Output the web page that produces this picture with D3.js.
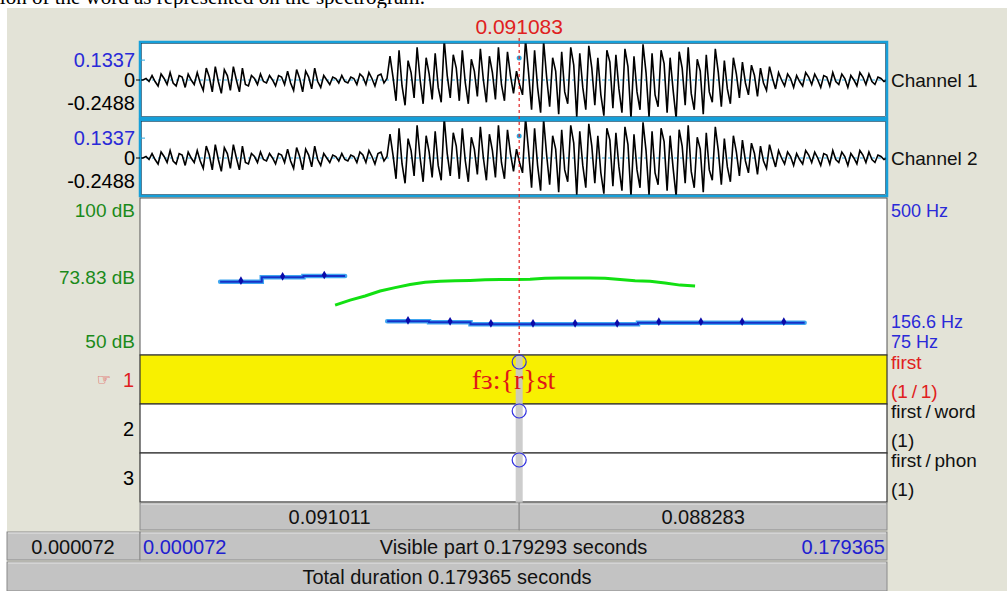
<!DOCTYPE html>
<html>
<head>
<meta charset="utf-8">
<script src="https://cdn.jsdelivr.net/npm/d3@7"></script>
<style>
  html, body { margin: 0; padding: 0; background: #fff; overflow: hidden; }
  text { font-family: "Liberation Sans", Arial, sans-serif; }
</style>
</head>
<body>
<div id="d3-container"></div>
<script>
const width = 1007,
  height = 591,
  panel = { left: 140, right: 887 },
  fontSize = "20px";

/* DATA */
const timeRange = [0.000072, 0.179365];
const cursorTime = 0.091083;
const ampTicks = [0.1337, 0, -0.2488];
const ampMax = 0.2488;

// waveform samples, left to right
const channel1 = [
  0, 0, 0.01, -0.01,
  0.03, -0.01, -0.04, 0.04, 0.01, -0.03, 0.05, -0.02, -0.04, 0.03, 0.02, -0.05, 0.04, 0.0, -0.03, 0.05, -0.02,
  -0.07, 0.08, 0.02, -0.08, 0.09, -0.01, -0.09, 0.07, 0.03, -0.07, 0.09, 0.0, -0.08, 0.08, -0.03,
  -0.04, 0.03, 0.01, -0.03, 0.04, -0.01, -0.02, 0.03, 0.0, -0.04, 0.03, 0.02, -0.03,
  0.06, -0.02, -0.07, 0.07, 0.01, -0.08, 0.06, 0.02, -0.06, 0.08, -0.01, -0.05,
  0.03, 0.0, -0.03, 0.02, 0.01, -0.02, 0.03, -0.01, -0.02, 0.02, 0.01, -0.03, 0.04, 0.02, -0.03, 0.05, 0.01, -0.04,
  0.03, 0.04, -0.02, 0.01,
  0.16, 0.02, -0.14, 0.2, -0.04, -0.17, 0.13, 0.05, -0.12, 0.22, 0.0, -0.16, 0.15, 0.04, -0.13,
  0.18, -0.05, -0.15, 0.27, 0.03, -0.12, 0.17, 0.08, -0.14, 0.2, -0.02, -0.16, 0.14, 0.06, -0.11,
  0.21, 0.0, -0.15, 0.16, 0.05, -0.13, 0.22, -0.03, -0.14, 0.19, 0.03, -0.09,
  0.06, -0.03, -0.1, 0.27, 0.05, -0.2, 0.2, -0.05, -0.22, 0.26, 0.02, -0.18, 0.15, 0.06, -0.23,
  0.19, -0.08, -0.16, 0.22, 0.1, -0.25, 0.18, -0.05, -0.2, 0.23, 0.08, -0.17, 0.15, -0.1, -0.24,
  0.2, 0.12, -0.19, 0.17, -0.06, -0.22, 0.21, 0.09, -0.26, 0.16, -0.08, -0.2, 0.24, 0.05, -0.25,
  0.18, -0.1, -0.18, 0.2, 0.11, -0.22, 0.15, -0.07, -0.26, 0.19, 0.08, -0.17, 0.22, -0.09, -0.2,
  0.14, 0.06, -0.23, 0.17, -0.08, -0.15, 0.21, 0.05, -0.18, 0.13, -0.06, -0.16, 0.15, 0.04, -0.12,
  0.12, -0.02, -0.1, 0.1, 0.03, -0.11, 0.08, -0.02, -0.07, 0.09, 0.01, -0.06,
  0.05, 0.0, -0.04, 0.04, 0.01, -0.05, 0.03, -0.01, -0.04, 0.05, 0.02, -0.03, 0.04, 0.0, -0.05,
  0.03, 0.02, -0.04, 0.05, -0.01, -0.03, 0.04, 0.01, -0.05, 0.03, 0.0, -0.04, 0.05, 0.02, -0.03,
  0.04, -0.01, -0.03, 0.02, 0.01, -0.01, 0
];
// channel 2 looks the same as channel 1 in the picture
const channel2 = channel1;

const intensityStart = 0.0469;
const intensityStep = 0.0036;
const intensityDb = [66.0, 67.6, 68.9, 70.5, 71.6, 72.6, 73.3, 73.6, 73.8, 73.9, 74.1, 74.2,
  74.2, 74.3, 74.6, 74.7, 74.7, 74.7, 74.6, 74.2, 73.8, 73.6, 73.1, 72.4, 72.1];
const dbTicks = [100, 73.83, 50];

const pitchFrameStep = 0.01;
const pitchTimes1 = [0.0243, 0.0343, 0.0443];
const pitchHz1 = [274.7, 286.7, 290.2];
const pitchTimes2 = [0.0644, 0.0745, 0.0843, 0.0944, 0.1045, 0.1146, 0.1246, 0.1347, 0.1446, 0.1546];
const pitchHz2 = [166.8, 164.1, 158.6, 158.6, 158.6, 158.6, 163.0, 163.0, 163.0, 163.0];
const hzTicks = [500, 156.6, 75];

const tierNames = ["first", "first\u2009/\u2009word", "first\u2009/\u2009phon"];
const tierCounts = ["(1\u2009/\u20091)", "(1)", "(1)"];
const tierText = "fɜ:{r}st";

const leftDuration = 0.091011;
const rightDuration = 0.088283;
const visiblePart = 0.179293;
const totalDuration = 0.179365;

/* SCALES */
const xScale = d3.scaleLinear().domain(timeRange).range([panel.left, panel.right]);
const chY = [
  d3.scaleLinear().domain([-ampMax, ampMax]).range([117, 43]),
  d3.scaleLinear().domain([-ampMax, ampMax]).range([195, 121])
];
const chBox = [[42, 118], [120, 196]];
const dbScale = d3.scaleLinear().domain([50, 100]).range([355, 199]);
const hzScale = d3.scaleLinear().domain([75, 500]).range([355, 199]);
const tierBox = [[355, 404], [404, 453], [453, 502]];

const svg = d3.select("#d3-container").append("svg")
  .attr("width", width).attr("height", height);

// page text cut off above the screenshot
svg.append("text")
  .attr("x", -6).attr("y", 4)
  .style("font-family", "'Liberation Serif', 'Times New Roman', serif")
  .style("font-size", "21px")
  .text("tion of the word as represented on the spectrogram.");

// window background
svg.append("rect").attr("x", 7).attr("y", 8).attr("width", width - 7).attr("height", height - 8)
  .attr("fill", "#e3e3d7");

const cx = xScale(cursorTime);

svg.append("text").attr("x", cx).attr("y", 34).attr("text-anchor", "middle")
  .attr("fill", "#e02020").style("font-size", "21px").text(d3.format(".6f")(cursorTime));

/* WAVEFORMS */
const waves = [channel1, channel2];
waves.forEach((wave, c) => {
  const [y0, y1] = chBox[c];
  svg.append("rect").attr("x", panel.left).attr("y", y0)
    .attr("width", panel.right - panel.left).attr("height", y1 - y0).attr("fill", "#fff");

  svg.append("clipPath").attr("id", "clip" + c).append("rect")
    .attr("x", panel.left).attr("y", y0).attr("width", panel.right - panel.left).attr("height", y1 - y0);

  // zero line
  svg.append("line").attr("x1", panel.left).attr("x2", panel.right)
    .attr("y1", chY[c](0)).attr("y2", chY[c](0))
    .attr("stroke", "#2aa8e0").attr("stroke-dasharray", "3,3").attr("stroke-width", 1);

  const tStep = (timeRange[1] - timeRange[0]) / (wave.length - 1);
  const line = d3.line()
    .x((d, i) => xScale(timeRange[0] + i * tStep))
    .y(d => chY[c](d));
  svg.append("path").attr("d", line(wave)).attr("clip-path", `url(#clip${c})`)
    .attr("fill", "none").attr("stroke", "#000").attr("stroke-width", 1.6);

  svg.append("rect").attr("x", panel.left).attr("y", y0)
    .attr("width", panel.right - panel.left).attr("height", y1 - y0)
    .attr("fill", "none").attr("stroke", "#169fd9").attr("stroke-width", 2.5);
  svg.append("rect").attr("x", panel.left + 1.5).attr("y", y0 + 1.5)
    .attr("width", panel.right - panel.left - 3).attr("height", y1 - y0 - 3)
    .attr("fill", "none").attr("stroke", "#0a3a55").attr("stroke-width", 0.6);

  // labels
  ampTicks.forEach((v, k) => {
    const ty = k === 2 ? chY[c](v) - 7 : chY[c](v) + 7;
    svg.append("text").attr("x", 135).attr("y", ty).attr("text-anchor", "end")
      .attr("fill", k === 0 ? "#2a2ad8" : "#000").style("font-size", fontSize).text(v);
  });
  svg.append("line").attr("x1", panel.left).attr("x2", panel.left + 5)
    .attr("y1", chY[c](ampTicks[0])).attr("y2", chY[c](ampTicks[0])).attr("stroke", "#2aa8e0");
  svg.append("line").attr("x1", panel.left - 4).attr("x2", panel.left)
    .attr("y1", chY[c](0)).attr("y2", chY[c](0)).attr("stroke", "#000");
  svg.append("circle").attr("cx", cx).attr("cy", chY[c](ampTicks[0]) - 2).attr("r", 2.5).attr("fill", "#2aa8e0");
  svg.append("text").attr("x", 891).attr("y", (y0 + y1) / 2 + 7)
    .style("font-size", "19px").attr("fill", "#111").text("Channel " + (c + 1));
});

/* PITCH + INTENSITY */
svg.append("rect").attr("x", panel.left).attr("y", 198).attr("width", panel.right - panel.left).attr("height", 157)
  .attr("fill", "#fff").attr("stroke", "#555").attr("stroke-width", 1);

const intensity = intensityDb.map((d, i) => ({ t: intensityStart + i * intensityStep, v: d }));
svg.append("path")
  .attr("d", d3.line().x(d => xScale(d.t)).y(d => dbScale(d.v))(intensity))
  .attr("fill", "none").attr("stroke", "#12e012").attr("stroke-width", 3);

[[pitchTimes1, pitchHz1], [pitchTimes2, pitchHz2]].forEach(([times, hz]) => {
  const pts = times.map((t, i) => ({ t, v: hz[i] }));
  const ext = [{ t: pts[0].t - pitchFrameStep / 2, v: pts[0].v }, ...pts,
    { t: pts[pts.length - 1].t + pitchFrameStep / 2, v: pts[pts.length - 1].v }];
  const pLine = d3.line().x(d => xScale(d.t)).y(d => hzScale(d.v)).curve(d3.curveStep);
  svg.append("path").attr("d", pLine(ext)).attr("fill", "none")
    .attr("stroke", "#3fa6f0").attr("stroke-width", 4.5).attr("stroke-linecap", "round");
  svg.append("path").attr("d", pLine(ext)).attr("fill", "none")
    .attr("stroke", "#1530c8").attr("stroke-width", 2);
  svg.selectAll(null).data(pts).join("path")
    .attr("transform", d => `translate(${xScale(d.t)},${hzScale(d.v) - 1})`)
    .attr("d", d3.symbol(d3.symbolDiamond, 22)).attr("fill", "#0a0aa8");
});

dbTicks.forEach((v, k) => {
  const ty = k === 0 ? 217 : k === 2 ? 348 : dbScale(v) + 3;
  svg.append("text").attr("x", 135).attr("y", ty).attr("text-anchor", "end")
    .attr("fill", "#1a8a1a").style("font-size", "19px").text(v + " dB");
});
hzTicks.forEach((v, k) => {
  const ty = k === 0 ? 217 : k === 2 ? 348 : hzScale(v) + 3;
  svg.append("text").attr("x", 891).attr("y", ty)
    .attr("fill", "#2a2ad8").style("font-size", "18px").text(v + " Hz");
});

/* TIERS */
tierBox.forEach(([y0, y1], k) => {
  svg.append("rect").attr("x", panel.left).attr("y", y0).attr("width", panel.right - panel.left).attr("height", y1 - y0)
    .attr("fill", k === 0 ? "#f8f000" : "#fff").attr("stroke", "#333").attr("stroke-width", 1.2);
  svg.append("text").attr("x", 134).attr("y", (y0 + y1) / 2 + 7).attr("text-anchor", "end")
    .attr("fill", k === 0 ? "#e02020" : "#000").style("font-size", fontSize)
    .text(k + 1);
  svg.append("text").attr("x", 891).attr("y", y0 + 14)
    .attr("fill", k === 0 ? "#e02020" : "#111").style("font-size", "19px").text(tierNames[k]);
  svg.append("text").attr("x", 891).attr("y", y0 + 43)
    .attr("fill", k === 0 ? "#e02020" : "#111").style("font-size", "19px").text(tierCounts[k]);
});
svg.append("text").attr("x", 111).attr("y", 385).attr("text-anchor", "end")
  .attr("fill", "#e02020").style("font-family", "'DejaVu Sans'").style("font-size", "16px").text("☞");

// cursor band in tiers
svg.append("rect").attr("x", cx - 3.5).attr("y", 356).attr("width", 7).attr("height", 150)
  .attr("fill", "#c8c8c8").attr("opacity", 0.9);

svg.append("text").attr("x", xScale((timeRange[0] + timeRange[1]) / 2)).attr("y", 389).attr("text-anchor", "middle")
  .attr("fill", "#e01818").style("font-family", "'Liberation Serif', 'Times New Roman', serif")
  .style("font-size", "28px").text(tierText);

tierBox.forEach(([y0]) => {
  svg.append("circle").attr("cx", cx).attr("cy", y0 + 7).attr("r", 7)
    .attr("fill", "none").attr("stroke", "#3030e0").attr("stroke-width", 1.2);
});

// cursor line
svg.append("line").attr("x1", cx).attr("x2", cx).attr("y1", 38).attr("y2", 356)
  .attr("stroke", "#e02020").attr("stroke-width", 1.2).attr("stroke-dasharray", "3,3");

/* BOTTOM BUTTONS */
function button(x0, x1, y0, y1) {
  svg.append("rect").attr("x", x0).attr("y", y0).attr("width", x1 - x0).attr("height", y1 - y0)
    .attr("fill", "#c3c3c3").attr("stroke", "#8a8a8a").attr("stroke-width", 1);
  svg.append("line").attr("x1", x0 + 1).attr("x2", x1 - 1).attr("y1", y0 + 1).attr("y2", y0 + 1)
    .attr("stroke", "#e6e6e6");
}
function label(x, y, txt, anchor, color) {
  svg.append("text").attr("x", x).attr("y", y).attr("text-anchor", anchor)
    .attr("fill", color).style("font-size", fontSize).text(txt);
}
const f6 = d3.format(".6f");
button(panel.left, cx, 503, 530);
button(cx, panel.right, 503, 530);
label((panel.left + cx) / 2, 524, f6(leftDuration), "middle", "#111");
label((cx + panel.right) / 2, 524, f6(rightDuration), "middle", "#111");

button(7, panel.left, 532, 560);
button(panel.left, panel.right, 532, 560);
label(73, 554, f6(timeRange[0]), "middle", "#111");
label(panel.left + 3, 554, f6(timeRange[0]), "start", "#2020d0");
label(panel.right - 2, 554, f6(timeRange[1]), "end", "#2020d0");
label((panel.left + panel.right) / 2, 554, `Visible part ${f6(visiblePart)} seconds`, "middle", "#111");

button(7, panel.right, 562, 591);
label((7 + panel.right) / 2, 584, `Total duration ${f6(totalDuration)} seconds`, "middle", "#111");
</script>
</body>
</html>
